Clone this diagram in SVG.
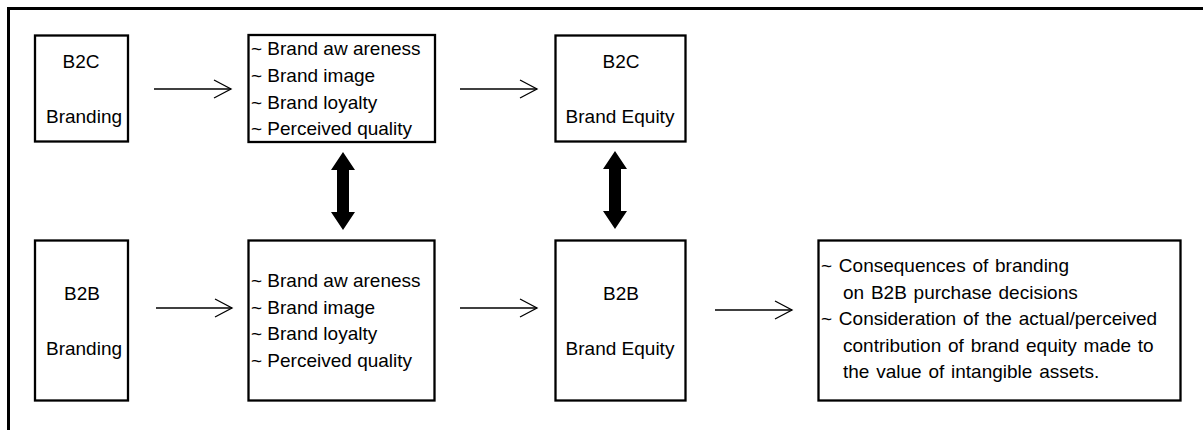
<svg xmlns="http://www.w3.org/2000/svg" width="1203" height="430" viewBox="0 0 1203 430">
<style>
  .box { fill: #ffffff; stroke: #000000; stroke-width: 2.3; }
  .t { font-family: "Liberation Sans", Arial, sans-serif; font-size: 19px; fill: #000000; }
  .c { text-anchor: middle; }
  .w { word-spacing: 1.5px; }
  .thin { fill: none; stroke: #000000; stroke-width: 1.3; }
  .frame { fill: none; stroke: #000000; stroke-width: 3; }
</style>
<defs>
  <marker id="open" markerUnits="userSpaceOnUse" viewBox="-19 -11 21 22" refX="0" refY="0" markerWidth="21" markerHeight="22" orient="auto" overflow="visible">
    <path d="M-17,-9 L0,0 L-17,9" fill="none" stroke="#000000" stroke-width="1.3"/>
  </marker>
  <polygon id="dbl" points="0,0 12,18 6,18 6,60 12,60 0,78 -12,60 -6,60 -6,18 -12,18" fill="#000000"/>
</defs>
<rect width="1203" height="430" fill="#ffffff"/>
<path class="frame" d="M8.5,430 V8.5 H1203"/>

<g id="connectors">
  <line class="thin" x1="154" y1="89" x2="231" y2="89" marker-end="url(#open)"/>
  <line class="thin" x1="460" y1="89" x2="537" y2="89" marker-end="url(#open)"/>
  <line class="thin" x1="156" y1="308" x2="232" y2="308" marker-end="url(#open)"/>
  <line class="thin" x1="460" y1="308" x2="537" y2="308" marker-end="url(#open)"/>
  <line class="thin" x1="715" y1="310" x2="792" y2="310" marker-end="url(#open)"/>
  <use href="#dbl" transform="translate(343,152)"/>
  <use href="#dbl" transform="translate(615,151)"/>
</g>

<g id="b2c-branding">
  <rect class="box" x="35" y="35.5" width="93" height="106"/>
  <text class="t c" x="81" y="68">B2C</text>
  <text class="t c" x="84" y="123">Branding</text>
</g>

<g id="b2c-attributes">
  <rect class="box" x="248.5" y="35" width="186.5" height="107"/>
  <text class="t" x="251" y="55.3">~ Brand aw areness</text>
  <text class="t" x="251" y="82">~ Brand image</text>
  <text class="t" x="251" y="108.7">~ Brand loyalty</text>
  <text class="t" x="251" y="135.3">~ Perceived quality</text>
</g>

<g id="b2c-equity">
  <rect class="box" x="555.5" y="35.5" width="130" height="106"/>
  <text class="t c" x="621" y="68">B2C</text>
  <text class="t c" x="620" y="123">Brand Equity</text>
</g>

<g id="b2b-branding">
  <rect class="box" x="35" y="240.5" width="93" height="160"/>
  <text class="t c" x="82" y="300">B2B</text>
  <text class="t c" x="84" y="355">Branding</text>
</g>

<g id="b2b-attributes">
  <rect class="box" x="248.5" y="240.5" width="186" height="160"/>
  <text class="t" x="251" y="287">~ Brand aw areness</text>
  <text class="t" x="251" y="313.5">~ Brand image</text>
  <text class="t" x="251" y="340">~ Brand loyalty</text>
  <text class="t" x="251" y="366.7">~ Perceived quality</text>
</g>

<g id="b2b-equity">
  <rect class="box" x="555.5" y="240.5" width="130" height="160"/>
  <text class="t c" x="621" y="300">B2B</text>
  <text class="t c" x="620" y="355">Brand Equity</text>
</g>

<g id="consequences">
  <rect class="box" x="818.5" y="240.5" width="362" height="160"/>
  <text class="t w" x="821" y="272">~ Consequences of branding</text>
  <text class="t w" x="843" y="298.5">on B2B purchase decisions</text>
  <text class="t w" x="821" y="325">~ Consideration of the actual/perceived</text>
  <text class="t w" x="843" y="351.5">contribution of brand equity made to</text>
  <text class="t w" x="843" y="378">the value of intangible assets.</text>
</g>
</svg>
